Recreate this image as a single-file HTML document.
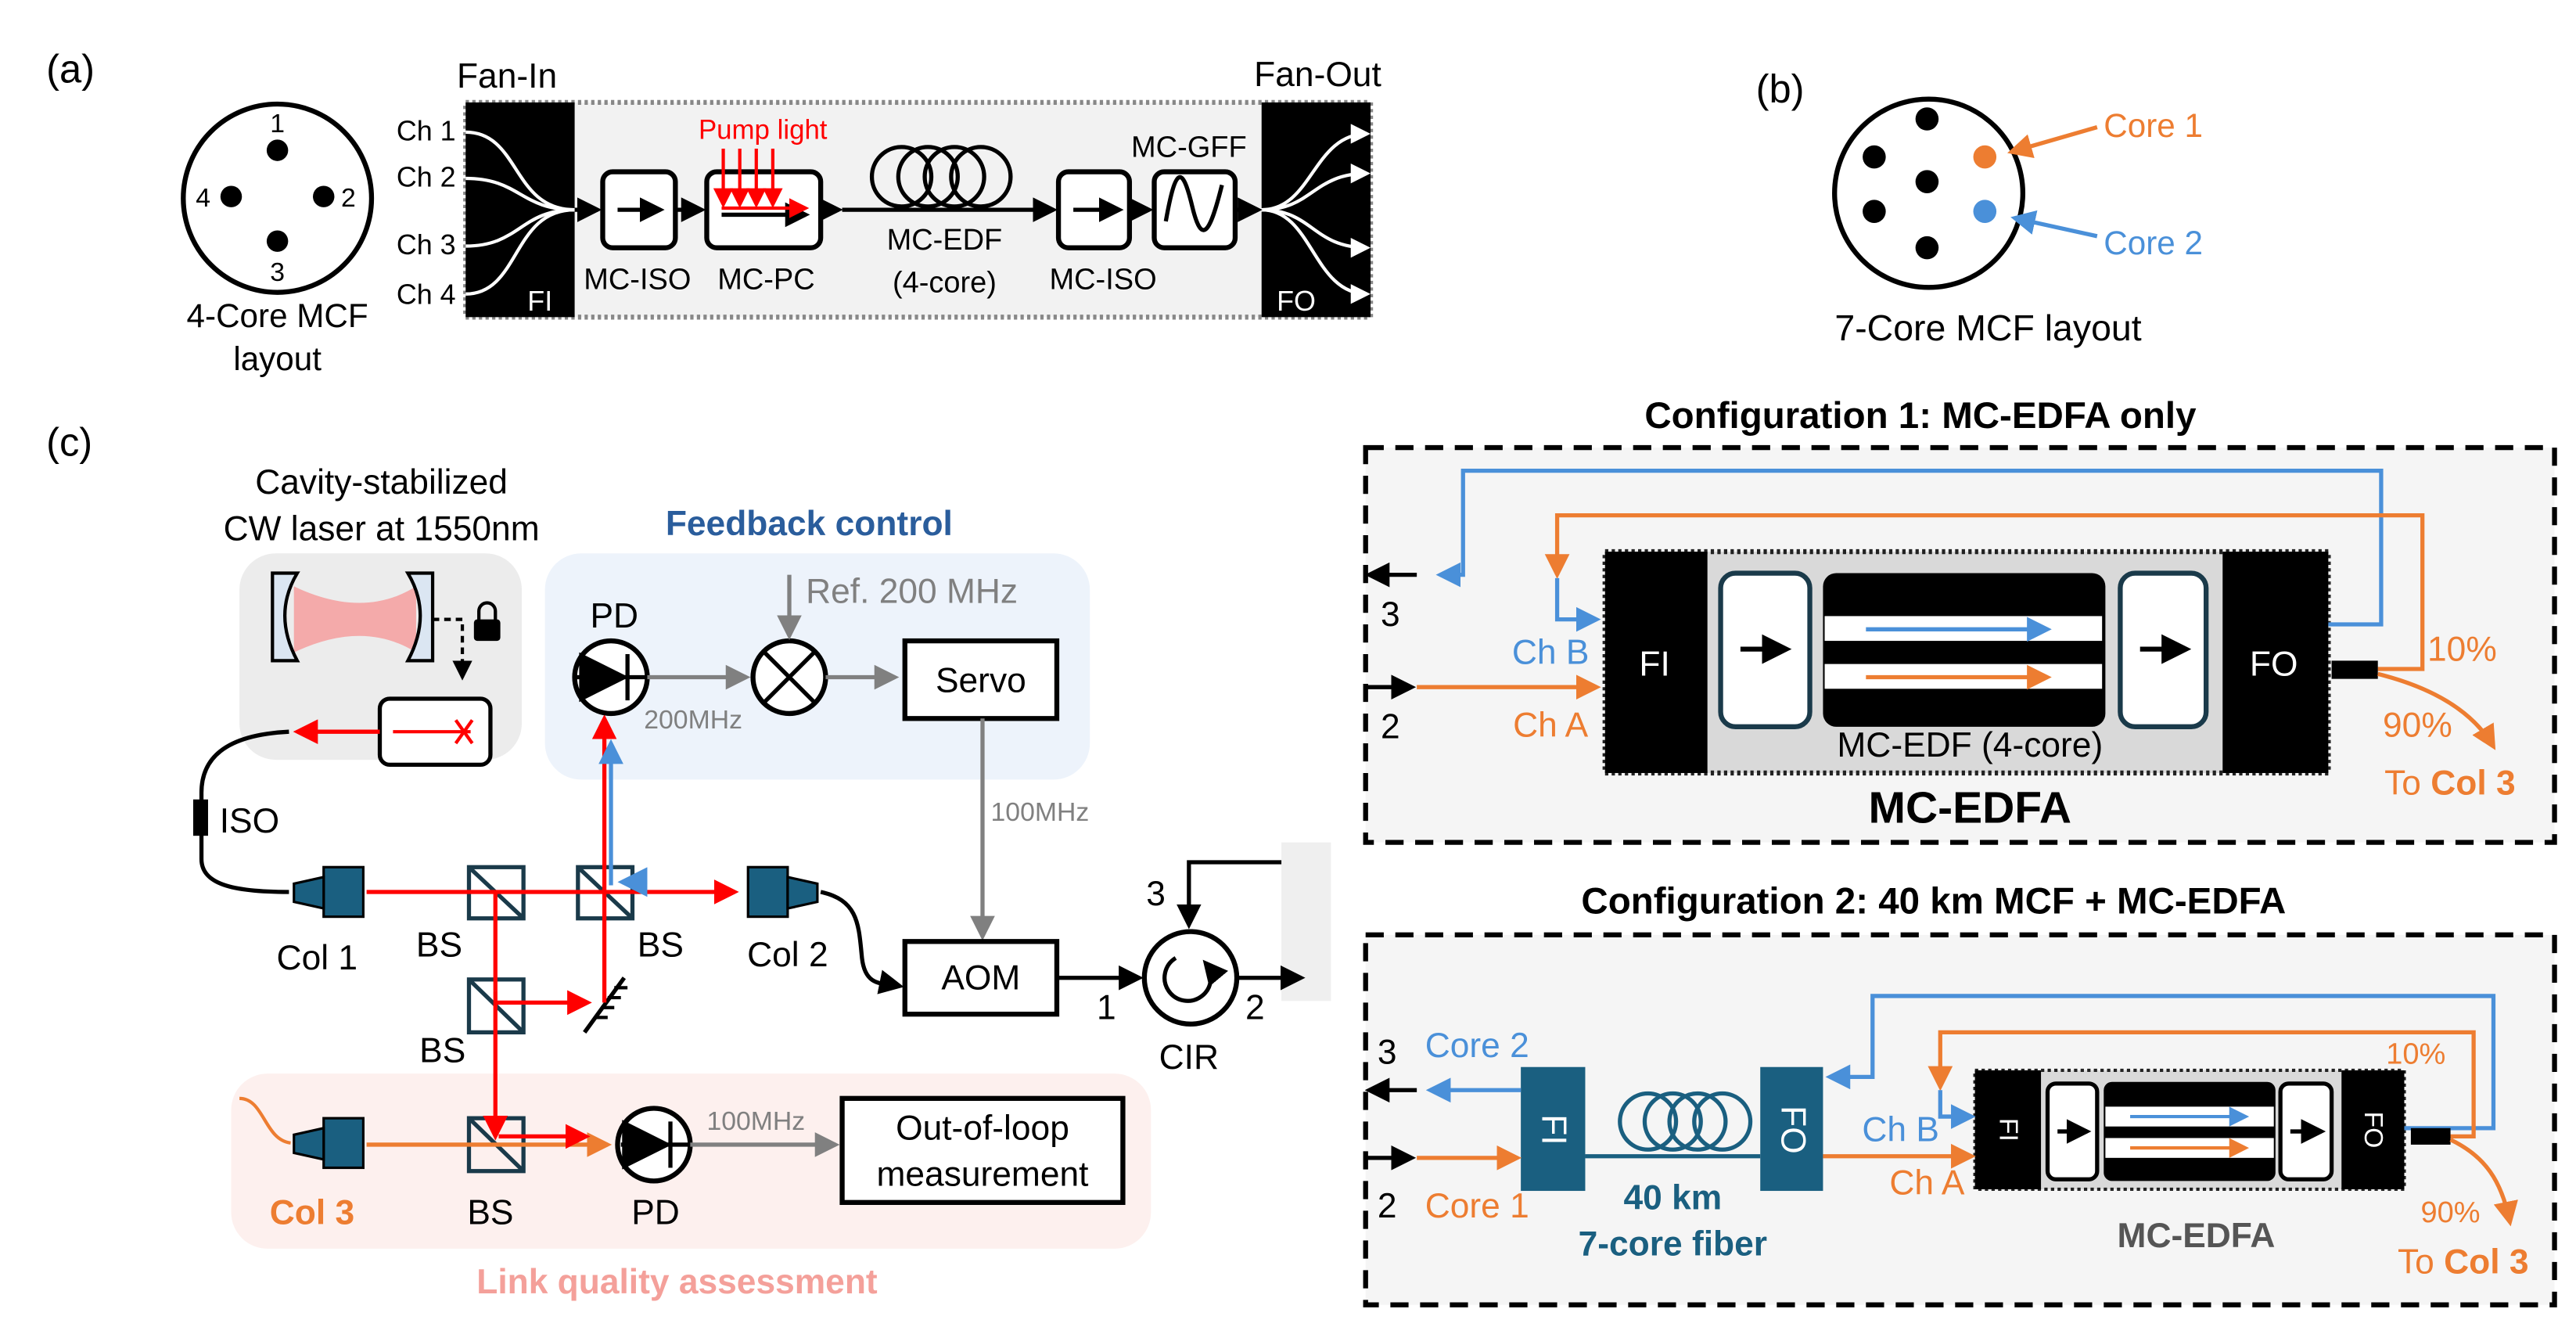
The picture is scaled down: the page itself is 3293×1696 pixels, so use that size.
<!DOCTYPE html>
<html><head><meta charset="utf-8"><style>
html,body{margin:0;padding:0;background:#fff}
svg{display:block}
text{font-family:"Liberation Sans",sans-serif}
</style></head><body>
<svg width="3293" height="1696" viewBox="0 0 1560 803.4" preserveAspectRatio="none" xmlns="http://www.w3.org/2000/svg">
<defs>
<marker id="ak" markerWidth="6" markerHeight="6" refX="5" refY="3" orient="auto" markerUnits="strokeWidth"><path d="M0,0 L6,3 L0,6 z" fill="#000"/></marker>
<marker id="ar" markerWidth="6" markerHeight="6" refX="5" refY="3" orient="auto" markerUnits="strokeWidth"><path d="M0,0 L6,3 L0,6 z" fill="#f00"/></marker>
<marker id="ab" markerWidth="6" markerHeight="6" refX="5" refY="3" orient="auto" markerUnits="strokeWidth"><path d="M0,0 L6,3 L0,6 z" fill="#4a90d9"/></marker>
<marker id="ao" markerWidth="6" markerHeight="6" refX="5" refY="3" orient="auto" markerUnits="strokeWidth"><path d="M0,0 L6,3 L0,6 z" fill="#ed7d31"/></marker>
<marker id="ag" markerWidth="6" markerHeight="6" refX="5" refY="3" orient="auto" markerUnits="strokeWidth"><path d="M0,0 L6,3 L0,6 z" fill="#808080"/></marker>
<marker id="aw" markerWidth="6" markerHeight="6" refX="5" refY="3" orient="auto" markerUnits="strokeWidth"><path d="M0,0 L6,3 L0,6 z" fill="#fff"/></marker>
</defs>
<g font-size="21">
<!-- (a) -->
<text x="28" y="50" font-size="24">(a)</text>
<circle cx="168" cy="120" r="57" fill="none" stroke="#000" stroke-width="3"/>
<circle cx="168" cy="91" r="6.5"/><circle cx="140" cy="119" r="6.5"/><circle cx="196" cy="119" r="6.5"/><circle cx="168" cy="146" r="6.5"/>
<text x="168" y="80" font-size="16" text-anchor="middle">1</text><text x="123" y="125" font-size="16" text-anchor="middle">4</text>
<text x="211" y="125" font-size="16" text-anchor="middle">2</text><text x="168" y="170" font-size="16" text-anchor="middle">3</text>
<text x="168" y="198" font-size="20" text-anchor="middle">4-Core MCF</text><text x="168" y="224" font-size="20" text-anchor="middle">layout</text>
<text x="307" y="53" font-size="21" text-anchor="middle">Fan-In</text>
<text x="798" y="52" font-size="21" text-anchor="middle">Fan-Out</text>
<rect x="282" y="62" width="548" height="130" fill="#f2f2f2" stroke="#888" stroke-width="3" stroke-dasharray="2,2"/>
<rect x="282" y="62" width="66" height="130" fill="#000"/><rect x="764" y="62" width="66" height="130" fill="#000"/>
<g fill="none" stroke="#fff" stroke-width="2">
<path d="M282,80 C315,80 310,127 348,127"/><path d="M282,108 C315,108 315,127 348,127"/><path d="M282,149 C315,149 315,127 348,127"/><path d="M282,178 C315,178 310,127 348,127"/>
<path d="M764,127 C795,127 795,81 828,81" marker-end="url(#aw)"/><path d="M764,127 C795,127 795,105 828,105" marker-end="url(#aw)"/><path d="M764,127 C795,127 795,150 828,150" marker-end="url(#aw)"/><path d="M764,127 C795,127 795,178 828,178" marker-end="url(#aw)"/>
</g>
<text x="276" y="85" font-size="17" text-anchor="end">Ch 1</text><text x="276" y="113" font-size="17" text-anchor="end">Ch 2</text>
<text x="276" y="154" font-size="17" text-anchor="end">Ch 3</text><text x="276" y="184" font-size="17" text-anchor="end">Ch 4</text>
<text x="327" y="188" font-size="17" fill="#fff" text-anchor="middle">FI</text><text x="785" y="188" font-size="17" fill="#fff" text-anchor="middle">FO</text>
<g fill="#fff" stroke="#000" stroke-width="3">
<rect x="365" y="104" width="44" height="46" rx="6"/><rect x="428" y="104" width="69" height="46" rx="6"/>
<rect x="641" y="104" width="43" height="46" rx="6"/><rect x="699" y="104" width="49" height="46" rx="6"/>
</g>
<g stroke="#000" stroke-width="2.5" fill="none">
<path d="M348,127 H362" marker-end="url(#ak)"/><path d="M409,127 H425" marker-end="url(#ak)"/><path d="M497,127 H508" marker-end="url(#ak)"/>
<path d="M510,127 H628"/><path d="M628,127 H638" marker-end="url(#ak)"/><path d="M684,127 H696" marker-end="url(#ak)"/><path d="M748,127 H762" marker-end="url(#ak)"/>
<path d="M374,127 H400" marker-end="url(#ak)"/><path d="M650,127 H678" marker-end="url(#ak)"/><path d="M437,130 H488" marker-end="url(#ak)"/>
<circle cx="546" cy="107" r="18"/><circle cx="562" cy="107" r="18"/><circle cx="578" cy="107" r="18"/><circle cx="594" cy="107" r="18"/>
<path d="M706,134 C712,100 716,100 722,125 C728,150 733,140 740,112"/>
</g>
<g stroke="#f00" stroke-width="2" fill="none">
<path d="M438,90 V124" marker-end="url(#ar)"/><path d="M448,90 V124" marker-end="url(#ar)"/><path d="M458,90 V124" marker-end="url(#ar)"/><path d="M468,90 V124" marker-end="url(#ar)"/>
<path d="M437,126 H488" marker-end="url(#ar)"/>
</g>
<text x="462" y="84" font-size="16.5" fill="#f00" text-anchor="middle">Pump light</text>
<text x="720" y="95" font-size="18" text-anchor="middle">MC-GFF</text>
<text x="386" y="175" font-size="18" text-anchor="middle">MC-ISO</text><text x="464" y="175" font-size="18" text-anchor="middle">MC-PC</text>
<text x="572" y="151" font-size="18" text-anchor="middle">MC-EDF</text><text x="572" y="177" font-size="18" text-anchor="middle">(4-core)</text>
<text x="668" y="175" font-size="18" text-anchor="middle">MC-ISO</text>
<!-- (b) -->
<text x="1078" y="62" font-size="24" text-anchor="middle">(b)</text>
<circle cx="1168" cy="117" r="57" fill="none" stroke="#000" stroke-width="3"/>
<circle cx="1167" cy="72" r="7"/><circle cx="1135" cy="95" r="7"/><circle cx="1167" cy="110" r="7"/><circle cx="1202" cy="95" r="7" fill="#ed7d31"/>
<circle cx="1135" cy="128" r="7"/><circle cx="1202" cy="128" r="7" fill="#4a90d9"/><circle cx="1167" cy="150" r="7"/>
<path d="M1270,77 L1218,92" stroke="#ed7d31" stroke-width="2.5" marker-end="url(#ao)"/>
<path d="M1270,143 L1220,132" stroke="#4a90d9" stroke-width="2.5" marker-end="url(#ab)"/>
<text x="1274" y="83" font-size="20" fill="#ed7d31">Core 1</text><text x="1274" y="154" font-size="20" fill="#4a90d9">Core 2</text>
<text x="1204" y="206" font-size="22" text-anchor="middle">7-Core MCF layout</text>
<!-- (c) -->
<text x="28" y="276" font-size="24">(c)</text>
<text x="231" y="299" text-anchor="middle">Cavity-stabilized</text><text x="231" y="327" text-anchor="middle">CW laser at 1550nm</text>
<rect x="145" y="335" width="171" height="125" rx="22" fill="#ececec"/>
<rect x="330" y="335" width="330" height="137" rx="22" fill="#edf3fb"/>
<text x="490" y="324" font-weight="bold" fill="#2a5d9c" text-anchor="middle">Feedback control</text>
<path d="M178,355 Q220,375 252,355 V395 Q220,375 178,395 Z" fill="#f4aaaa"/>
<path d="M165,347 H180 Q165,372 180,400 H165 Z" fill="#dbe6f2" stroke="#000" stroke-width="2"/>
<path d="M262,347 H247 Q262,372 247,400 H262 Z" fill="#dbe6f2" stroke="#000" stroke-width="2"/>
<path d="M262,375 H280 V410" stroke="#000" stroke-width="2" stroke-dasharray="4,3" fill="none" marker-end="url(#ak)"/>
<rect x="287" y="375" width="16" height="13" rx="2"/><path d="M290,376 V370 A5,5 0 0 1 300,370 V376" stroke="#000" stroke-width="2" fill="none"/>
<rect x="230" y="423" width="67" height="40" rx="6" fill="#fff" stroke="#000" stroke-width="2.5"/>
<path d="M238,443 H285" stroke="#f00" stroke-width="2"/><path d="M276,436 L286,450 M286,436 L276,450" stroke="#f00" stroke-width="2"/>
<path d="M230,443 H180" stroke="#f00" stroke-width="2.5" marker-end="url(#ar)"/>
<path d="M175,443 C135,445 122,460 122,480 V520 C122,535 140,540 175,540" stroke="#000" stroke-width="2.5" fill="none"/>
<rect x="117" y="484" width="9" height="22"/><text x="133" y="504">ISO</text>
<g fill="#1a5f80" stroke="#000" stroke-width="1.5">
<rect x="196" y="525" width="24" height="30"/><path d="M196,531 L178,535 V546 L196,550 Z"/>
<rect x="453" y="525" width="24" height="30"/><path d="M477,531 L495,535 V546 L477,550 Z"/>
</g>
<g fill="none" stroke="#1a3a4a" stroke-width="2.5">
<rect x="284" y="525" width="33" height="31"/><path d="M284,525 L317,556"/>
<rect x="350" y="525" width="33" height="31"/><path d="M350,525 L383,556"/>
<rect x="284" y="593" width="33" height="32"/><path d="M284,593 L317,625"/>
</g>
<path d="M354,625 L378,592" stroke="#000" stroke-width="2.5"/>
<path d="M360,616 h8 M364,610 h8 M368,604 h8 M372,598 h8" stroke="#000" stroke-width="2"/>
<g stroke="#f00" stroke-width="2.5" fill="none">
<path d="M222,540 H445" marker-end="url(#ar)"/>
<path d="M300,540 V600"/>
<path d="M300,607 H356" marker-end="url(#ar)"/>
<path d="M366,607 V435" marker-end="url(#ar)"/>
</g>
<path d="M392,534 H377" stroke="#4a90d9" stroke-width="3" marker-end="url(#ab)"/>
<path d="M370,536 V450" stroke="#4a90d9" stroke-width="2.5" marker-end="url(#ab)"/>
<path d="M497,540 C520,545 520,560 522,580 C524,598 535,595 545,597" stroke="#000" stroke-width="2.5" fill="none" marker-end="url(#ak)"/>
<text x="192" y="587" text-anchor="middle">Col 1</text><text x="266" y="579" text-anchor="middle">BS</text>
<text x="400" y="579" text-anchor="middle">BS</text><text x="477" y="585" text-anchor="middle">Col 2</text><text x="268" y="643" text-anchor="middle">BS</text>
<!-- PD & mixer -->
<circle cx="370" cy="410" r="22" fill="#fff" stroke="#000" stroke-width="3"/>
<path d="M352,397 L378,410 L352,423 Z M349,410 H392 M380,396 V424" stroke="#000" stroke-width="2.5"/>
<text x="372" y="380" text-anchor="middle">PD</text>
<path d="M392,410 H452" stroke="#808080" stroke-width="2.5" marker-end="url(#ag)"/>
<circle cx="478" cy="410" r="22" fill="#fff" stroke="#000" stroke-width="3"/>
<path d="M463,395 L493,425 M493,395 L463,425" stroke="#000" stroke-width="2.5"/>
<path d="M478,348 V385" stroke="#808080" stroke-width="2.5" marker-end="url(#ag)"/>
<text x="488" y="365" fill="#808080">Ref. 200 MHz</text>
<text x="390" y="441" font-size="16" fill="#808080">200MHz</text>
<path d="M500,410 H542" stroke="#808080" stroke-width="2.5" marker-end="url(#ag)"/>
<rect x="548" y="388" width="92" height="47" fill="#fff" stroke="#000" stroke-width="3"/>
<text x="594" y="419" text-anchor="middle">Servo</text>
<path d="M595,435 V567" stroke="#808080" stroke-width="2.5" marker-end="url(#ag)"/>
<text x="600" y="497" font-size="16" fill="#808080">100MHz</text>
<rect x="548" y="570" width="92" height="44" fill="#fff" stroke="#000" stroke-width="3"/>
<text x="594" y="599" text-anchor="middle">AOM</text>
<rect x="776" y="510" width="30" height="96" fill="#efefef"/>
<path d="M640,592 H690" stroke="#000" stroke-width="2.5" marker-end="url(#ak)"/>
<circle cx="721" cy="592" r="28" fill="#fff" stroke="#000" stroke-width="3"/>
<path d="M712,580 A14,14 0 1 0 730,583" stroke="#000" stroke-width="2.5" fill="none" marker-end="url(#ak)"/>
<path d="M749,592 H788" stroke="#000" stroke-width="2.5" marker-end="url(#ak)"/>
<path d="M776,522 H720 V560" stroke="#000" stroke-width="2.5" fill="none" marker-end="url(#ak)"/>
<text x="700" y="548" text-anchor="middle">3</text><text x="670" y="617" text-anchor="middle">1</text><text x="760" y="617" text-anchor="middle">2</text>
<text x="720" y="647" text-anchor="middle">CIR</text>
<!-- link quality -->
<rect x="140" y="650" width="557" height="106" rx="22" fill="#fdf0ee"/>
<g fill="#1a5f80" stroke="#000" stroke-width="1.5">
<rect x="196" y="677" width="24" height="30"/><path d="M196,683 L178,687 V698 L196,702 Z"/>
</g>
<g fill="none" stroke="#1a3a4a" stroke-width="2.5"><rect x="284" y="677" width="33" height="32"/><path d="M284,677 L317,709"/></g>
<path d="M145,665 C160,665 160,690 176,692" stroke="#ed7d31" stroke-width="2" fill="none"/>
<path d="M222,693 H368" stroke="#ed7d31" stroke-width="2.5" marker-end="url(#ao)"/>
<path d="M300,600 V688" stroke="#f00" stroke-width="2.5" marker-end="url(#ar)"/>
<path d="M302,688 H355" stroke="#f00" stroke-width="2.5" marker-end="url(#ar)"/>
<circle cx="396" cy="693" r="22" fill="#fff" stroke="#000" stroke-width="3"/>
<path d="M378,680 L404,693 L378,706 Z M376,693 H418 M406,679 V707" stroke="#000" stroke-width="2.5"/>
<path d="M418,693 H506" stroke="#808080" stroke-width="2.5" marker-end="url(#ag)"/>
<text x="428" y="684" font-size="16" fill="#808080">100MHz</text>
<rect x="510" y="665" width="170" height="63" fill="#fff" stroke="#000" stroke-width="3"/>
<text x="595" y="690" text-anchor="middle">Out-of-loop</text><text x="595" y="718" text-anchor="middle">measurement</text>
<text x="189" y="741" font-weight="bold" fill="#ed7d31" text-anchor="middle">Col 3</text>
<text x="297" y="741" text-anchor="middle">BS</text><text x="397" y="741" text-anchor="middle">PD</text>
<text x="410" y="783" font-weight="bold" fill="#f4a09a" text-anchor="middle">Link quality assessment</text>
<!-- Config 1 -->
<text x="1163" y="259" font-size="22.5" font-weight="bold" text-anchor="middle">Configuration 1: MC-EDFA only</text>
<rect x="827" y="271" width="720" height="239" fill="#f5f5f5" stroke="#000" stroke-width="3" stroke-dasharray="11,7"/>
<rect x="972" y="334" width="438" height="134" fill="#d9d9d9" stroke="#222" stroke-width="3" stroke-dasharray="2,2"/>
<rect x="972" y="334" width="62" height="134" fill="#000"/><rect x="1346" y="334" width="64" height="134" fill="#000"/>
<text x="1002" y="409" fill="#fff" text-anchor="middle">FI</text><text x="1377" y="409" fill="#fff" text-anchor="middle">FO</text>
<rect x="1042" y="347" width="54" height="93" rx="9" fill="#fff" stroke="#1a3a4a" stroke-width="3"/>
<rect x="1284" y="347" width="52" height="93" rx="9" fill="#fff" stroke="#1a3a4a" stroke-width="3"/>
<path d="M1054,393 H1082" stroke="#000" stroke-width="3" marker-end="url(#ak)"/><path d="M1296,393 H1324" stroke="#000" stroke-width="3" marker-end="url(#ak)"/>
<rect x="1104" y="347" width="171" height="93" rx="8" fill="#000"/>
<rect x="1105" y="373" width="168" height="15" fill="#fff"/><rect x="1105" y="402" width="168" height="15" fill="#fff"/>
<path d="M1130,381 H1240" stroke="#4a90d9" stroke-width="2.5" marker-end="url(#ab)"/>
<path d="M1130,410 H1240" stroke="#ed7d31" stroke-width="2.5" marker-end="url(#ao)"/>
<text x="1193" y="458" text-anchor="middle">MC-EDF (4-core)</text>
<text x="1193" y="498" font-size="27" font-weight="bold" text-anchor="middle">MC-EDFA</text>
<path d="M1410,378 H1442 V285 H886 V348 H872" stroke="#4a90d9" stroke-width="2.5" fill="none" marker-end="url(#ab)"/>
<path d="M858,348 H829" stroke="#000" stroke-width="2.5" marker-end="url(#ak)"/>
<text x="842" y="379" text-anchor="middle">3</text>
<path d="M1440,405 H1467 V312 H943 V348" stroke="#ed7d31" stroke-width="2.5" fill="none" marker-end="url(#ao)"/>
<path d="M943,350 V375 H967" stroke="#4a90d9" stroke-width="2.5" fill="none" marker-end="url(#ab)"/>
<rect x="1412" y="400" width="28" height="11" fill="#000"/>
<path d="M826,416 H855" stroke="#000" stroke-width="2.5" marker-end="url(#ak)"/>
<path d="M858,416 H967" stroke="#ed7d31" stroke-width="2.5" marker-end="url(#ao)"/>
<text x="842" y="447" text-anchor="middle">2</text>
<text x="939" y="402" fill="#4a90d9" text-anchor="middle">Ch B</text><text x="939" y="446" fill="#ed7d31" text-anchor="middle">Ch A</text>
<path d="M1440,408 C1480,418 1500,435 1510,452" stroke="#ed7d31" stroke-width="2.5" fill="none" marker-end="url(#ao)"/>
<text x="1470" y="400" fill="#ed7d31">10%</text><text x="1443" y="446" fill="#ed7d31">90%</text>
<text x="1444" y="481" fill="#ed7d31">To <tspan font-weight="bold">Col 3</tspan></text>
<!-- Config 2 -->
<text x="1171" y="553" font-size="22.5" font-weight="bold" text-anchor="middle">Configuration 2: 40 km MCF + MC-EDFA</text>
<rect x="827" y="566" width="720" height="224" fill="#f5f5f5" stroke="#000" stroke-width="3" stroke-dasharray="11,7"/>
<rect x="921" y="646" width="39" height="75" fill="#1a5f80"/><rect x="1066" y="646" width="38" height="75" fill="#1a5f80"/>
<text x="940" y="684" fill="#fff" text-anchor="middle" transform="rotate(90 940 684)" dy="6">FI</text>
<text x="1085" y="684" fill="#fff" text-anchor="middle" transform="rotate(90 1085 684)" dy="6">FO</text>
<g fill="none" stroke="#1a5f80" stroke-width="2.5">
<circle cx="998" cy="679" r="17"/><circle cx="1013" cy="679" r="17"/><circle cx="1028" cy="679" r="17"/><circle cx="1043" cy="679" r="17"/>
<path d="M960,700 H1066"/></g>
<text x="1013" y="732" font-weight="bold" fill="#1a5f80" text-anchor="middle">40 km</text>
<text x="1013" y="760" font-weight="bold" fill="#1a5f80" text-anchor="middle">7-core fiber</text>
<rect x="1196" y="648" width="260" height="72" fill="#d9d9d9" stroke="#222" stroke-width="2" stroke-dasharray="2,2"/>
<rect x="1196" y="648" width="40" height="72" fill="#000"/><rect x="1418" y="648" width="38" height="72" fill="#000"/>
<text x="1216" y="684" fill="#fff" font-size="16" text-anchor="middle" transform="rotate(90 1216 684)" dy="5">FI</text>
<text x="1437" y="684" fill="#fff" font-size="16" text-anchor="middle" transform="rotate(90 1437 684)" dy="5">FO</text>
<rect x="1240" y="656" width="30" height="58" rx="5" fill="#fff" stroke="#000" stroke-width="2.5"/>
<rect x="1381" y="656" width="31" height="58" rx="5" fill="#fff" stroke="#000" stroke-width="2.5"/>
<path d="M1246,685 H1264" stroke="#000" stroke-width="2.5" marker-end="url(#ak)"/><path d="M1387,685 H1406" stroke="#000" stroke-width="2.5" marker-end="url(#ak)"/>
<rect x="1274" y="655" width="104" height="60" rx="5" fill="#000"/>
<rect x="1275" y="670" width="102" height="12" fill="#fff"/><rect x="1275" y="689" width="102" height="12" fill="#fff"/>
<path d="M1290,676 H1360" stroke="#4a90d9" stroke-width="2" marker-end="url(#ab)"/>
<path d="M1290,695 H1360" stroke="#ed7d31" stroke-width="2" marker-end="url(#ao)"/>
<text x="1330" y="755" font-size="21" font-weight="bold" fill="#555" text-anchor="middle">MC-EDFA</text>
<path d="M1456,683 H1510 V603 H1134 V652 H1108" stroke="#4a90d9" stroke-width="2.5" fill="none" marker-end="url(#ab)"/>
<path d="M1484,688 H1498 V625 H1175 V658" stroke="#ed7d31" stroke-width="2.5" fill="none" marker-end="url(#ao)"/>
<path d="M1175,660 V676 H1194" stroke="#4a90d9" stroke-width="2.5" fill="none" marker-end="url(#ab)"/>
<rect x="1460" y="683" width="24" height="10" fill="#000"/>
<path d="M1104,700 H1194" stroke="#ed7d31" stroke-width="2.5" marker-end="url(#ao)"/>
<path d="M1484,690 C1505,700 1515,715 1520,740" stroke="#ed7d31" stroke-width="2.5" fill="none" marker-end="url(#ao)"/>
<path d="M921,660 H866" stroke="#4a90d9" stroke-width="2.5" marker-end="url(#ab)"/>
<path d="M858,660 H829" stroke="#000" stroke-width="2.5" marker-end="url(#ak)"/>
<path d="M858,701 H919" stroke="#ed7d31" stroke-width="2.5" marker-end="url(#ao)"/>
<path d="M826,701 H855" stroke="#000" stroke-width="2.5" marker-end="url(#ak)"/>
<text x="840" y="644" text-anchor="middle">3</text><text x="840" y="737" text-anchor="middle">2</text>
<text x="863" y="640" fill="#4a90d9">Core 2</text><text x="863" y="737" fill="#ed7d31">Core 1</text>
<text x="1151" y="691" fill="#4a90d9" text-anchor="middle">Ch B</text><text x="1167" y="723" fill="#ed7d31" text-anchor="middle">Ch A</text>
<text x="1445" y="644" fill="#ed7d31" font-size="18">10%</text><text x="1466" y="740" fill="#ed7d31" font-size="18">90%</text>
<text x="1452" y="771" fill="#ed7d31">To <tspan font-weight="bold">Col 3</tspan></text>
</g>
</svg>
</body></html>
